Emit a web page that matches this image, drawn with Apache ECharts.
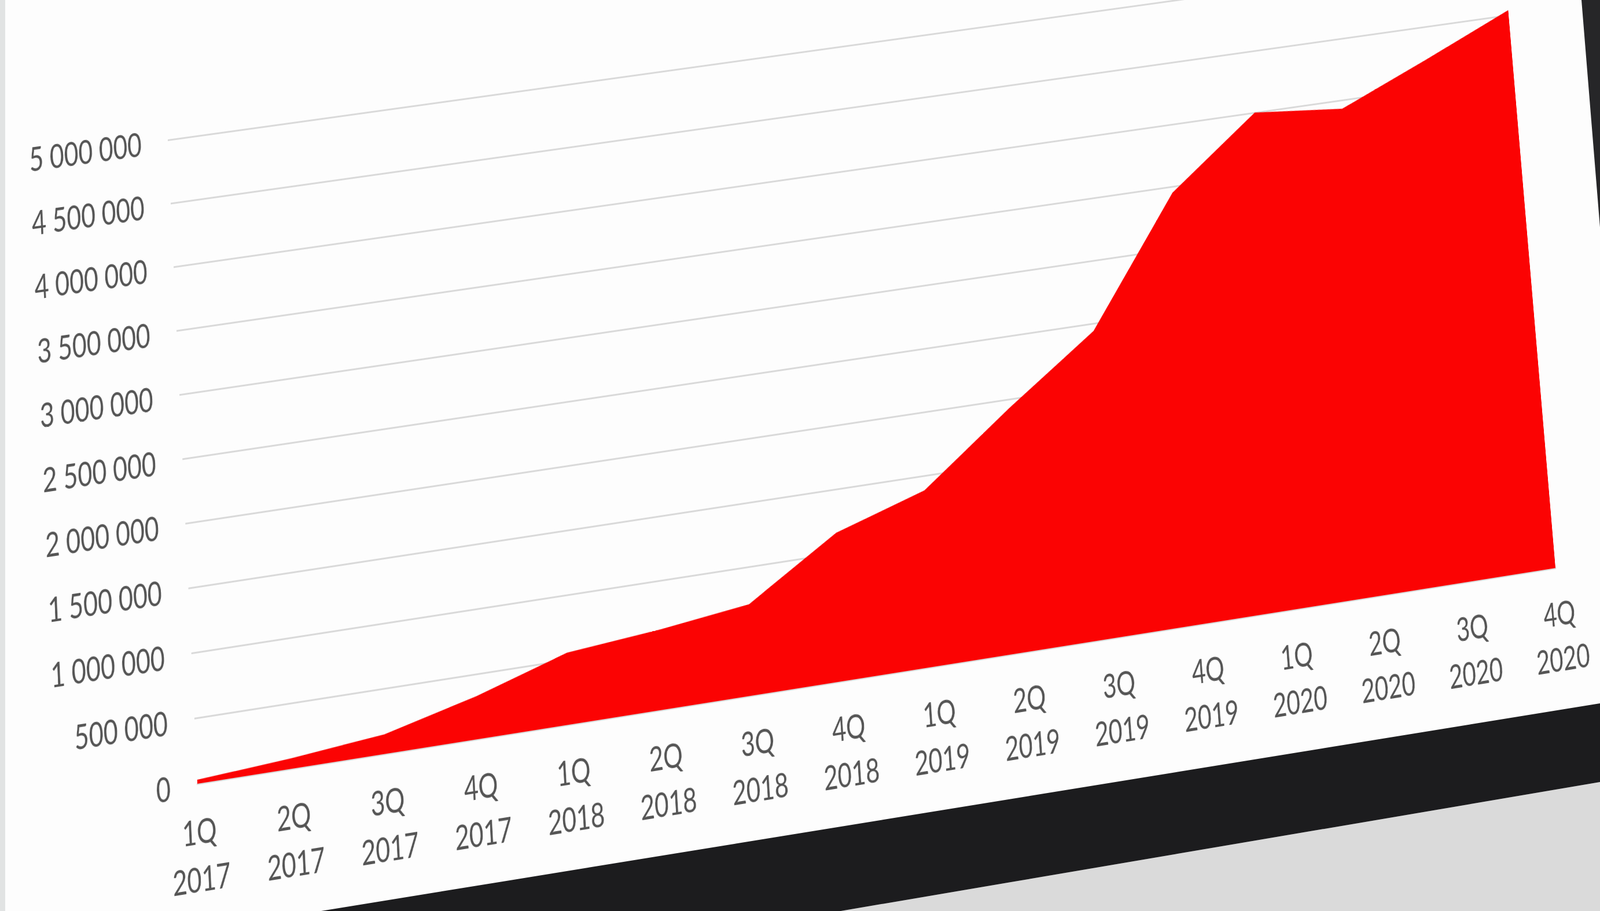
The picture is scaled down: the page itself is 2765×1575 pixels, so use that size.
<!DOCTYPE html>
<html>
<head>
<meta charset="utf-8">
<script src="https://cdn.jsdelivr.net/npm/echarts@6/dist/echarts.min.js"></script>
<style>
html,body{margin:0;padding:0;width:2765px;height:1575px;overflow:hidden;background:#fdfdfd;}
#backdrop{position:absolute;left:0;top:0;width:2765px;height:1575px;}
#chart{position:absolute;left:0;top:0;width:3800px;height:1700px;transform-origin:0 0;}
</style>
</head>
<body>
<svg id="backdrop" width="2765" height="1575" xmlns="http://www.w3.org/2000/svg">
  <rect x="0" y="0" width="9" height="1575" fill="#e1e3e3"/>
  <polygon points="1453,1575 2765,1352 2765,1575" fill="#dadada"/>
  <polygon points="555,1575 2765,1216 2765,1352 1453,1575" fill="#1c1c1e"/>
  <polygon points="2733,0 2765,0 2765,393" fill="#262628"/>
</svg>
<div id="chart"></div>
<script>
// ---- data ----
const categories = ['1Q\n2017','2Q\n2017','3Q\n2017','4Q\n2017',
                    '1Q\n2018','2Q\n2018','3Q\n2018','4Q\n2018',
                    '1Q\n2019','2Q\n2019','3Q\n2019','4Q\n2019',
                    '1Q\n2020','2Q\n2020','3Q\n2020','4Q\n2020'];
const values = [30000, 80000, 150000, 330000,
                555000, 620000, 710000, 1160000,
                1385000, 1930000, 2440000, 3450000,
                4000000, 3930000, 4230000, 4540000];
const yMin = 0;
const yMax = 5000000;
const yStep = 500000;

// ---- photo perspective anchors (where plot points appear in the photo) ----
const anchors = [
  {cat: 0,  val: 0,       x: 341,  y: 1355},
  {cat: 0,  val: 5000000, x: 290,  y: 242},
  {cat: 15, val: 0,       x: 2688, y: 982},
  {cat: 15, val: 4500000, x: 2607, y: 26}
];

function fmt(v){ return String(v).replace(/\B(?=(\d{3})+(?!\d))/g, ' '); }

const dom = document.getElementById('chart');
const chart = echarts.init(dom, null, {renderer: 'svg'});
chart.setOption({
  animation: false,
  backgroundColor: 'transparent',
  grid: {left: 420, top: 300, width: 3300, height: 1110},
  xAxis: {
    type: 'category',
    data: categories,
    boundaryGap: false,
    axisTick: {show: false},
    axisLine: {lineStyle: {color: '#d9d9d9', width: 3}},
    axisLabel: {interval: 0, color: '#555555', fontFamily: 'Lato', fontSize: 58, lineHeight: 80, margin: 40},
    splitLine: {show: false}
  },
  yAxis: {
    type: 'value',
    min: yMin, max: yMax, interval: yStep,
    axisLine: {show: false},
    axisTick: {show: false},
    axisLabel: {formatter: fmt, color: '#555555', fontFamily: 'Lato', fontSize: 58, margin: 62},
    splitLine: {lineStyle: {color: '#d9d9d9', width: 3}}
  },
  series: [{
    type: 'line',
    data: values,
    symbol: 'none',
    lineStyle: {width: 0, opacity: 0},
    areaStyle: {color: '#fb0303', opacity: 1}
  }]
});

// ---- perspective (homography) so the flat chart sits like the photographed slide ----
function solve(A, b){
  const n = b.length;
  for (let i = 0; i < n; i++) {
    let p = i;
    for (let r = i + 1; r < n; r++) if (Math.abs(A[r][i]) > Math.abs(A[p][i])) p = r;
    [A[i], A[p]] = [A[p], A[i]]; [b[i], b[p]] = [b[p], b[i]];
    for (let r = i + 1; r < n; r++) {
      const f = A[r][i] / A[i][i];
      for (let c = i; c < n; c++) A[r][c] -= f * A[i][c];
      b[r] -= f * b[i];
    }
  }
  const x = new Array(n).fill(0);
  for (let i = n - 1; i >= 0; i--) {
    let s = b[i];
    for (let c = i + 1; c < n; c++) s -= A[i][c] * x[c];
    x[i] = s / A[i][i];
  }
  return x;
}
const A = [], B = [];
anchors.forEach(function (a) {
  const s = chart.convertToPixel({xAxisIndex: 0, yAxisIndex: 0}, [a.cat, a.val]);
  const u = s[0], v = s[1];
  A.push([u, v, 1, 0, 0, 0, -u * a.x, -v * a.x]); B.push(a.x);
  A.push([0, 0, 0, u, v, 1, -u * a.y, -v * a.y]); B.push(a.y);
});
const h = solve(A, B);
dom.style.transform = 'matrix3d(' + [h[0], h[3], 0, h[6], h[1], h[4], 0, h[7], 0, 0, 1, 0, h[2], h[5], 0, 1].join(',') + ')';
</script>
</body>
</html>
